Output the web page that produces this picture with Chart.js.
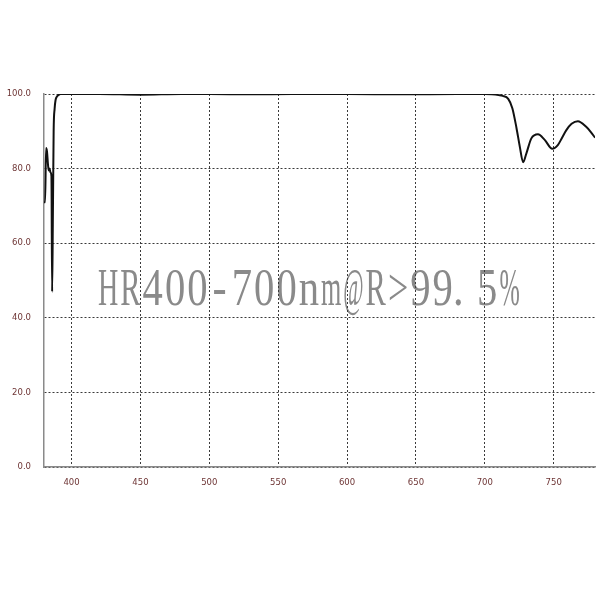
<!DOCTYPE html>
<html>
<head>
<meta charset="utf-8">
<script src="https://cdn.jsdelivr.net/npm/chart.js@4/dist/chart.umd.min.js"></script>
<style>
  html, body { margin: 0; padding: 0; background: #ffffff; }
  #wrap { width: 600px; height: 600px; }
</style>
</head>
<body>
<div id="wrap"><canvas id="c" width="600" height="600"></canvas></div>
<script>
// ---- data ----
const wavelengths = [380, 380.8, 381.5, 382.2, 382.8, 383.4, 384, 384.7, 385.4, 385.9, 386.4, 387, 387.7, 388.4, 389.4, 390.4, 392, 395, 400, 420, 450, 480, 500, 530, 560, 600, 640, 680, 700, 705, 710, 713, 717, 720, 723, 725.4, 727.8, 730.2, 733.8, 738.6, 743.5, 749, 753, 756, 759.2, 763, 767.6, 773.6, 777, 780];
const reflectance = [71, 71, 85.5, 84.5, 81.5, 79.5, 80, 79, 78, 47, 65, 90, 96, 98.4, 99.3, 99.7, 100, 100, 100, 100, 99.8, 100, 100, 99.9, 100, 100, 99.9, 100, 100, 99.9, 99.7, 99.5, 98.7, 96.2, 90.9, 85.9, 81.7, 84.1, 88.1, 89.2, 87.7, 85.3, 86.3, 88.2, 90.3, 92, 92.7, 91.2, 89.8, 88.3];
const xTickValues = [400, 450, 500, 550, 600, 650, 700, 750];
const yTickValues = [0, 20, 40, 60, 80, 100];
const xRange = [380, 780];
const yRange = [0, 100];
const watermarkText = "HR400-700nm@R>99.5%";

const points = wavelengths.map((w, i) => ({ x: w, y: reflectance[i] }));

const watermark = {
  id: 'watermark',
  beforeDraw(chart) {
    const ctx = chart.ctx;
    ctx.save();
    ctx.fillStyle = '#ffffff';
    ctx.fillRect(0, 0, chart.width, chart.height);
    ctx.font = '53px "Liberation Serif"';
    ctx.fillStyle = '#8a8a8a';
    ctx.textBaseline = 'alphabetic';
    ctx.textAlign = 'center';
    const chars = [...watermarkText];
    const cell = 22.3, x0 = 97, base = 305;
    chars.forEach((c, i) => {
      const w = ctx.measureText(c).width;
      const sx = Math.min(0.8, (cell - 2) / w);
      const cx = x0 + cell * i + cell / 2 + (c === '.' ? -cell * 0.3 : 0);
      ctx.save();
      ctx.translate(cx, base);
      ctx.scale(sx, 1);
      ctx.fillText(c, 0, 0);
      ctx.restore();
    });
    ctx.restore();
  }
};

const tickFont = { family: 'DejaVu Sans', size: 8.5 };
const tickColor = '#6e3535';

new Chart(document.getElementById('c'), {
  type: 'line',
  data: {
    datasets: [{
      data: points,
      borderColor: '#111111',
      borderWidth: 2,
      pointRadius: 0,
      fill: false,
      cubicInterpolationMode: 'monotone'
    }]
  },
  options: {
    responsive: false,
    animation: false,
    devicePixelRatio: 1,
    layout: { padding: { left: 0, top: 94, right: 5, bottom: 103 } },
    plugins: { legend: { display: false }, title: { display: false }, tooltip: { enabled: false } },
    scales: {
      x: {
        type: 'linear',
        min: xRange[0], max: xRange[1],
        afterBuildTicks: (axis) => { axis.ticks = xTickValues.map(v => ({ value: v })); },
        afterFit: (s) => { s.height = 30; },
        grid: { color: '#3a3a3a', lineWidth: 1, drawTicks: false },
        border: { display: true, color: '#8a8a8a', width: 1.5, dash: [2, 2] },
        ticks: { color: tickColor, font: tickFont, padding: 11, maxRotation: 0, callback: (v) => String(v) }
      },
      y: {
        type: 'linear',
        min: yRange[0], max: yRange[1],
        afterBuildTicks: (axis) => { axis.ticks = yTickValues.map(v => ({ value: v })); },
        afterFit: (s) => { s.width = 44; },
        grid: { color: '#3a3a3a', lineWidth: 1, drawTicks: false },
        border: { display: true, color: '#8a8a8a', width: 1.5, dash: [2, 2] },
        ticks: { color: tickColor, font: tickFont, padding: 13, callback: (v) => Number(v).toFixed(1) }
      }
    }
  },
  plugins: [watermark]
});
</script>
</body>
</html>
